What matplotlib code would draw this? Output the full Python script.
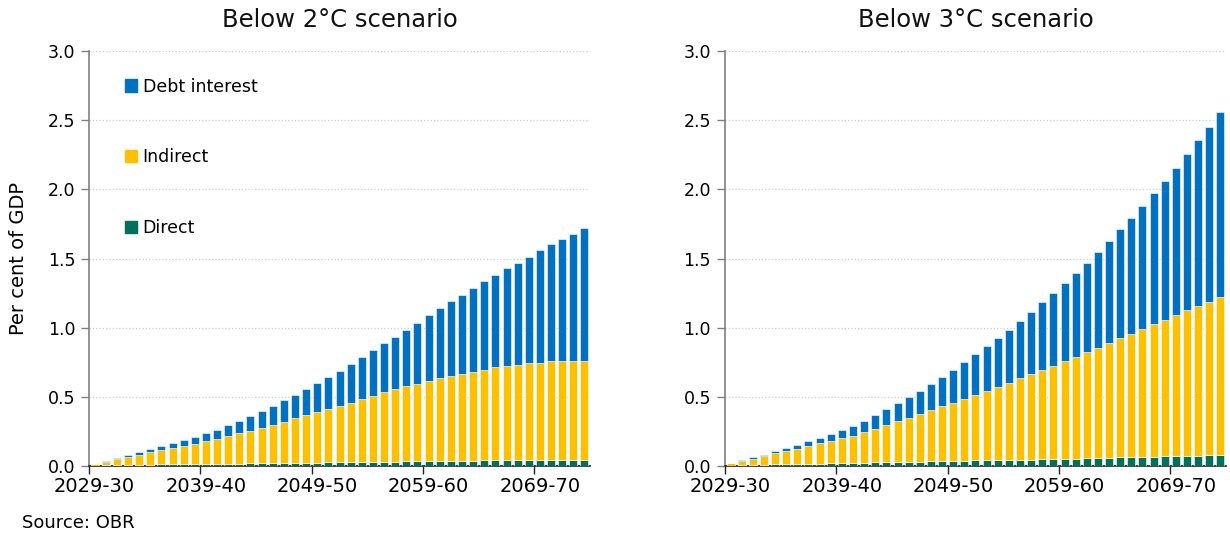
import matplotlib
matplotlib.use("Agg")
import matplotlib.pyplot as plt
from matplotlib.patches import Patch

# categories: fiscal years 2029-30 .. 2073-74
years = ["%d-%02d" % (y, (y + 1) % 100) for y in range(2029, 2074)]
tick_years = ["2029-30", "2039-40", "2049-50", "2059-60", "2069-70"]

# Below 2C scenario (per cent of GDP)
direct_2c = [0.003, 0.004, 0.005, 0.007, 0.008, 0.010, 0.011, 0.012, 0.013, 0.014,
             0.015, 0.016, 0.017, 0.018, 0.019, 0.020, 0.021, 0.022, 0.023, 0.024,
             0.025, 0.026, 0.027, 0.028, 0.029, 0.030, 0.031, 0.032, 0.033, 0.034,
             0.035, 0.036, 0.037, 0.038, 0.039, 0.040, 0.041, 0.042, 0.042, 0.043,
             0.044, 0.044, 0.045, 0.045, 0.046]
indirect_2c = [0.014, 0.027, 0.045, 0.060, 0.072, 0.090, 0.105, 0.120, 0.134, 0.147,
               0.163, 0.179, 0.197, 0.218, 0.234, 0.257, 0.276, 0.298, 0.321, 0.342,
               0.363, 0.384, 0.410, 0.431, 0.454, 0.477, 0.501, 0.522, 0.543, 0.561,
               0.583, 0.599, 0.614, 0.630, 0.644, 0.657, 0.673, 0.682, 0.691, 0.700,
               0.704, 0.713, 0.715, 0.712, 0.716]
debt_2c = [0.001, 0.004, 0.005, 0.010, 0.020, 0.022, 0.029, 0.036, 0.043, 0.049,
           0.058, 0.067, 0.080, 0.090, 0.109, 0.120, 0.139, 0.155, 0.172, 0.189,
           0.210, 0.230, 0.251, 0.276, 0.303, 0.329, 0.356, 0.381, 0.407, 0.441,
           0.471, 0.507, 0.539, 0.568, 0.601, 0.640, 0.668, 0.704, 0.738, 0.771,
           0.812, 0.849, 0.884, 0.923, 0.962]

# Below 3C scenario (per cent of GDP)
direct_3c = [0.003, 0.005, 0.007, 0.009, 0.011, 0.012, 0.014, 0.015, 0.017, 0.019,
             0.021, 0.022, 0.024, 0.026, 0.028, 0.029, 0.031, 0.032, 0.034, 0.036,
             0.037, 0.039, 0.040, 0.041, 0.043, 0.044, 0.045, 0.047, 0.048, 0.050,
             0.052, 0.054, 0.056, 0.058, 0.060, 0.062, 0.064, 0.066, 0.068, 0.070,
             0.072, 0.074, 0.075, 0.077, 0.079]
indirect_3c = [0.016, 0.031, 0.046, 0.063, 0.080, 0.096, 0.110, 0.129, 0.146, 0.160,
               0.178, 0.196, 0.220, 0.244, 0.266, 0.294, 0.318, 0.346, 0.370, 0.397,
               0.422, 0.447, 0.474, 0.504, 0.531, 0.559, 0.589, 0.618, 0.646, 0.675,
               0.704, 0.735, 0.765, 0.798, 0.828, 0.861, 0.893, 0.924, 0.956, 0.987,
               1.019, 1.053, 1.083, 1.110, 1.143]
debt_3c = [0.001, 0.007, 0.009, 0.008, 0.014, 0.021, 0.029, 0.035, 0.040, 0.051,
           0.059, 0.074, 0.084, 0.098, 0.117, 0.132, 0.153, 0.167, 0.189, 0.213,
           0.237, 0.265, 0.295, 0.321, 0.349, 0.380, 0.414, 0.450, 0.490, 0.526,
           0.565, 0.606, 0.650, 0.694, 0.741, 0.787, 0.837, 0.893, 0.947, 1.005,
           1.064, 1.129, 1.196, 1.263, 1.335]

series_names = ["Direct", "Indirect", "Debt interest"]
colors = ["#006F5C", "#FFC000", "#0070C0"]

plt.rcParams['font.family'] = ['DejaVu Sans']

fig = plt.figure(figsize=(12.3, 5.38), dpi=100)
ax1 = fig.add_axes([0.0724, 0.1338, 0.4073, 0.7714])
ax2 = fig.add_axes([0.5894, 0.1338, 0.4073, 0.7714])


def draw_panel(ax, title, direct, indirect, debt):
    x = list(range(len(years)))
    bottom2 = [a + b for a, b in zip(direct, indirect)]
    w = 0.72
    ax.bar(x, direct, w, color=colors[0], edgecolor='white', linewidth=0.4, zorder=3)
    ax.bar(x, indirect, w, bottom=direct, color=colors[1], edgecolor='white', linewidth=0.4, zorder=3)
    ax.bar(x, debt, w, bottom=bottom2, color=colors[2], edgecolor='white', linewidth=0.4, zorder=3)

    ax.set_xlim(-0.5, len(years) - 0.5)
    ax.set_ylim(0, 3.0)
    ax.set_yticks([0, 0.5, 1.0, 1.5, 2.0, 2.5, 3.0])
    ax.set_yticklabels(["%.1f" % v for v in [0, 0.5, 1.0, 1.5, 2.0, 2.5, 3.0]], fontsize=12.5)
    ax.yaxis.grid(True, linestyle=':', color='#cccccc', linewidth=0.9, zorder=0)

    # tick marks on category boundaries, labels on the category centres
    idx = [years.index(t) for t in tick_years]
    ax.set_xticks([i - 0.5 for i in idx])
    ax.set_xticklabels([])
    ax.set_xticks(idx, minor=True)
    ax.set_xticklabels(tick_years, minor=True, fontsize=14)
    ax.tick_params(axis='x', which='major', length=6, width=1, color='#222222', direction='out')
    ax.tick_params(axis='x', which='minor', length=0, pad=8)
    ax.tick_params(axis='y', length=6, width=1, color='#808080', pad=4)

    for s in ['top', 'right']:
        ax.spines[s].set_visible(False)
    ax.spines['left'].set_color('#808080')
    ax.spines['left'].set_linewidth(1.2)
    ax.spines['bottom'].set_color('#222222')
    ax.spines['bottom'].set_linewidth(1.2)

    ax.set_title(title, fontsize=17.5, pad=17, color='#111111')


draw_panel(ax1, "Below 2\u00b0C scenario", direct_2c, indirect_2c, debt_2c)
draw_panel(ax2, "Below 3\u00b0C scenario", direct_3c, indirect_3c, debt_3c)

ax1.set_ylabel("Per cent of GDP", fontsize=14, labelpad=14)

handles = [Patch(color=c) for c in colors][::-1]
ax1.legend(handles, series_names[::-1], loc='upper left', bbox_to_anchor=(0.055, 0.957),
           frameon=False, fontsize=12.5, handlelength=0.7, handleheight=0.7,
           handletextpad=0.3, labelspacing=3.05, borderpad=0)

fig.text(0.018, 0.027, "Source: OBR", fontsize=13, ha='left', va='center')

fig.savefig("out.png", dpi=100)
